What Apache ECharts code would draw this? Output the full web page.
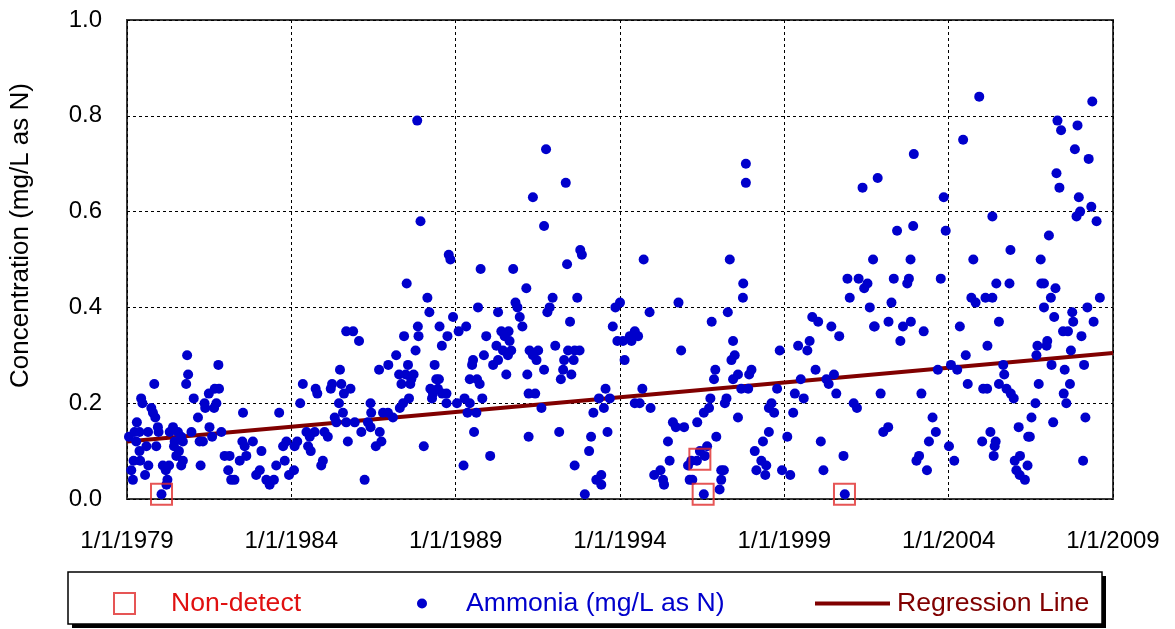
<!DOCTYPE html>
<html>
<head>
<meta charset="utf-8">
<script src="https://cdn.jsdelivr.net/npm/echarts@6/dist/echarts.min.js"></script>
<style>
  html, body { margin: 0; padding: 0; background: #fff; }
  #chart { width: 1175px; height: 629px; }
</style>
</head>
<body>
<div id="chart"></div>
<script>
// x = decimal year, y = mg/L as N
const ammonia1979 = [
  [1980.83,0.30],[1981.78,0.28],[1980.86,0.26],[1979.83,0.24],[1980.80,0.24],[1979.43,0.21],[1979.47,0.20],
  [1979.74,0.19],[1979.79,0.18],[1979.86,0.17],[1981.03,0.21],[1981.49,0.22],[1981.67,0.23],[1981.80,0.23],
  [1981.36,0.20],[1981.38,0.19],[1981.65,0.19],[1981.72,0.20],[1981.16,0.17],[1982.53,0.18],[1979.30,0.16],
  [1979.06,0.13],[1979.23,0.14],[1979.38,0.14],[1979.64,0.14],[1979.94,0.15],[1979.96,0.14],[1979.28,0.12],
  [1979.59,0.11],[1979.89,0.11],[1979.38,0.10],[1980.40,0.15],[1980.30,0.14],[1980.55,0.14],[1980.65,0.13],
  [1980.45,0.12],[1980.70,0.12],[1980.96,0.14],[1981.21,0.12],[1981.31,0.12],[1981.51,0.15],[1981.59,0.13],
  [1981.87,0.14],[1980.43,0.11],[1980.58,0.10],[1980.50,0.09],[1980.70,0.08],[1979.20,0.08],[1979.40,0.08],
  [1979.65,0.07],[1979.13,0.06],[1979.18,0.04],[1979.55,0.05],[1980.09,0.07],[1980.28,0.07],[1980.18,0.06],
  [1980.23,0.04],[1980.20,0.03],[1980.05,0.01],[1980.65,0.07],[1981.24,0.07],[1981.97,0.09],[1982.12,0.09],
  [1982.08,0.06],[1982.17,0.04],[1982.27,0.04],[1982.51,0.12],[1982.58,0.11],[1982.43,0.08],[1982.63,0.09]
];
const ammonia1983 = [
  [1985.67,0.35],[1985.88,0.35],[1986.06,0.33],[1985.48,0.27],[1984.35,0.24],[1984.74,0.23],[1984.79,0.22],
  [1985.24,0.24],[1985.20,0.23],[1985.52,0.24],[1985.60,0.22],[1985.80,0.23],[1984.27,0.20],[1985.45,0.20],
  [1986.41,0.20],[1983.63,0.18],[1985.32,0.17],[1985.57,0.18],[1985.37,0.16],[1985.67,0.16],[1985.93,0.16],
  [1986.13,0.14],[1985.72,0.12],[1986.33,0.16],[1986.41,0.15],[1986.43,0.18],[1986.57,0.11],[1984.46,0.14],
  [1984.71,0.14],[1984.56,0.13],[1985.01,0.14],[1985.11,0.13],[1984.18,0.12],[1983.85,0.12],[1983.75,0.11],
  [1984.10,0.11],[1984.51,0.11],[1984.59,0.10],[1983.09,0.10],[1983.80,0.08],[1983.54,0.07],[1983.04,0.06],
  [1982.93,0.05],[1984.96,0.08],[1984.91,0.07],[1984.08,0.06],[1983.93,0.05],[1983.24,0.04],[1983.34,0.03],
  [1983.47,0.04],[1986.23,0.04],[1982.83,0.12]
];
const ammonia1987 = [
  [1987.83,0.79],[1987.93,0.58],[1988.79,0.51],[1988.84,0.50],[1989.76,0.48],[1987.51,0.45],[1988.14,0.42],
  [1988.20,0.39],[1989.68,0.40],[1990.29,0.39],[1988.92,0.38],[1987.85,0.36],[1987.87,0.34],[1988.51,0.36],
  [1988.75,0.34],[1989.09,0.35],[1989.32,0.36],[1987.43,0.34],[1989.93,0.34],[1990.24,0.32],[1987.78,0.31],
  [1988.58,0.32],[1987.19,0.30],[1986.95,0.28],[1986.67,0.27],[1987.55,0.28],[1988.36,0.28],[1989.53,0.29],
  [1989.50,0.28],[1989.86,0.30],[1990.14,0.28],[1990.29,0.29],[1987.28,0.26],[1987.35,0.24],[1987.48,0.26],
  [1987.65,0.25],[1987.72,0.26],[1987.62,0.24],[1988.41,0.25],[1988.49,0.25],[1988.23,0.23],[1988.31,0.22],
  [1988.46,0.23],[1988.59,0.22],[1988.72,0.22],[1988.28,0.21],[1988.72,0.20],[1987.58,0.21],[1987.40,0.20],
  [1987.30,0.19],[1989.43,0.25],[1989.65,0.25],[1989.73,0.24],[1989.27,0.21],[1989.43,0.20],[1989.04,0.20],
  [1989.81,0.21],[1989.36,0.18],[1989.63,0.18],[1986.79,0.18],[1986.94,0.18],[1987.09,0.17],[1986.69,0.14],
  [1986.74,0.12],[1988.03,0.11],[1989.56,0.14],[1990.05,0.09],[1989.24,0.07]
];
const ammonia1990 = [
  [1991.75,0.73],[1992.35,0.66],[1991.35,0.63],[1991.69,0.57],[1992.79,0.52],[1992.84,0.51],[1992.39,0.49],
  [1990.75,0.48],[1991.15,0.44],[1991.95,0.42],[1992.70,0.42],[1991.86,0.40],[1991.79,0.39],[1990.82,0.41],
  [1990.88,0.40],[1993.86,0.40],[1994.00,0.41],[1990.95,0.38],[1991.03,0.36],[1992.48,0.37],[1993.78,0.36],
  [1990.39,0.35],[1990.61,0.35],[1990.49,0.34],[1990.64,0.33],[1993.92,0.33],[1994.09,0.33],[1990.44,0.31],
  [1990.69,0.31],[1990.59,0.30],[1991.25,0.31],[1991.51,0.31],[1991.35,0.30],[1991.46,0.29],[1992.03,0.32],
  [1992.42,0.31],[1992.62,0.31],[1992.77,0.31],[1992.30,0.29],[1992.59,0.29],[1991.69,0.27],[1990.54,0.26],
  [1991.18,0.26],[1992.27,0.27],[1992.20,0.25],[1992.52,0.26],[1994.14,0.29],[1991.22,0.22],[1991.42,0.22],
  [1991.61,0.19],[1993.56,0.23],[1993.36,0.21],[1993.69,0.21],[1993.51,0.19],[1993.19,0.18],[1991.22,0.13],
  [1992.15,0.14],[1993.62,0.14],[1993.12,0.13],[1993.06,0.10],[1992.62,0.07],[1993.43,0.05],[1993.28,0.04],
  [1993.43,0.03],[1992.93,0.01]
];
const ammonia1994 = [
  [1997.83,0.70],[1997.83,0.66],[1994.72,0.50],[1997.34,0.50],[1997.75,0.45],[1997.74,0.42],[1995.78,0.41],
  [1994.90,0.39],[1997.28,0.39],[1996.79,0.37],[1994.45,0.35],[1994.30,0.34],[1994.55,0.34],[1994.35,0.33],
  [1997.44,0.33],[1995.86,0.31],[1997.49,0.30],[1997.39,0.29],[1996.90,0.27],[1996.86,0.25],[1997.59,0.26],
  [1997.93,0.26],[1997.44,0.25],[1994.68,0.23],[1997.69,0.23],[1997.90,0.23],[1994.45,0.20],[1994.60,0.20],
  [1994.93,0.19],[1996.75,0.21],[1996.71,0.19],[1997.19,0.20],[1997.24,0.21],[1997.59,0.17],[1995.61,0.16],
  [1995.70,0.15],[1995.95,0.15],[1996.35,0.16],[1996.55,0.18],[1996.93,0.13],[1995.46,0.12],[1995.51,0.08],
  [1996.43,0.10],[1996.65,0.11],[1996.58,0.09],[1996.34,0.08],[1996.17,0.08],[1996.07,0.07],[1995.23,0.06],
  [1995.04,0.05],[1995.31,0.04],[1995.34,0.03],[1996.12,0.04],[1996.20,0.04],[1997.16,0.06],[1997.08,0.06],
  [1997.08,0.04],[1997.03,0.02],[1996.55,0.01]
];
const ammonia1998 = [
  [2001.38,0.65],[2000.92,0.46],[2001.26,0.46],[2001.53,0.45],[2001.43,0.44],[2000.99,0.42],[2001.60,0.40],
  [1999.85,0.38],[2000.03,0.37],[2001.73,0.36],[2000.43,0.36],[2000.67,0.34],[1999.77,0.33],[1999.42,0.32],
  [1999.70,0.31],[1998.86,0.31],[1999.95,0.27],[1998.00,0.27],[1999.50,0.25],[2000.28,0.25],[2000.51,0.26],
  [2000.35,0.24],[1998.78,0.23],[2000.58,0.22],[1999.32,0.22],[1999.59,0.21],[1998.61,0.20],[1998.53,0.19],
  [1998.69,0.18],[1999.27,0.18],[2001.11,0.20],[2001.21,0.19],[1998.53,0.14],[1998.35,0.12],[1998.10,0.10],
  [1999.09,0.13],[2000.11,0.12],[2000.80,0.09],[1998.30,0.08],[1998.45,0.07],[1998.15,0.06],[1998.42,0.05],
  [1998.93,0.06],[1999.18,0.05],[2000.19,0.06],[2000.84,0.01]
];
const ammonia2002 = [
  [2004.93,0.84],[2004.44,0.75],[2002.94,0.72],[2001.84,0.67],[2003.85,0.63],[2005.33,0.59],[2002.43,0.56],
  [2002.92,0.57],[2003.91,0.56],[2001.70,0.50],[2002.84,0.50],[2004.75,0.50],[2002.33,0.46],[2002.79,0.46],
  [2002.74,0.45],[2003.76,0.46],[2005.45,0.45],[2002.26,0.41],[2004.69,0.42],[2004.82,0.41],[2005.12,0.42],
  [2005.33,0.42],[2001.75,0.36],[2002.17,0.37],[2002.61,0.36],[2002.85,0.37],[2003.24,0.35],[2002.53,0.33],
  [2004.34,0.36],[2005.53,0.37],[2005.18,0.32],[2004.52,0.30],[2004.07,0.28],[2004.26,0.27],[2003.67,0.27],
  [2004.58,0.24],[2005.05,0.23],[2005.17,0.23],[2005.53,0.24],[2001.93,0.22],[2003.17,0.22],[2003.51,0.17],
  [2002.16,0.15],[2002.01,0.14],[2003.61,0.14],[2003.40,0.12],[2005.27,0.14],[2005.02,0.12],[2005.43,0.12],
  [2005.40,0.11],[2005.37,0.09],[2004.01,0.11],[2004.17,0.08],[2003.10,0.09],[2003.02,0.08],[2003.34,0.06]
];
const ammonia2006 = [
  [2008.37,0.83],[2007.31,0.79],[2007.42,0.77],[2007.92,0.78],[2007.84,0.73],[2008.26,0.71],[2007.28,0.68],
  [2007.37,0.65],[2007.96,0.63],[2008.34,0.61],[2008.00,0.60],[2007.89,0.59],[2008.50,0.58],[2007.05,0.55],
  [2005.88,0.52],[2006.80,0.50],[2005.85,0.45],[2006.82,0.45],[2006.90,0.45],[2007.25,0.44],[2007.11,0.42],
  [2008.60,0.42],[2006.90,0.40],[2007.21,0.38],[2007.76,0.39],[2007.79,0.37],[2008.22,0.40],[2008.41,0.37],
  [2007.48,0.35],[2007.63,0.35],[2008.04,0.34],[2007.00,0.33],[2006.98,0.32],[2006.70,0.32],[2007.72,0.31],
  [2006.67,0.30],[2005.66,0.28],[2005.69,0.26],[2007.13,0.28],[2007.53,0.27],[2008.12,0.28],[2005.76,0.23],
  [2005.89,0.22],[2005.98,0.21],[2006.74,0.24],[2007.69,0.24],[2007.50,0.22],[2007.58,0.20],[2006.64,0.20],
  [2006.52,0.17],[2007.18,0.16],[2008.16,0.17],[2006.13,0.15],[2006.42,0.13],[2006.47,0.13],[2008.09,0.08],
  [2006.01,0.08],[2006.17,0.09],[2006.06,0.06],[2006.16,0.05],[2006.32,0.04],[2006.40,0.07]
];
const nonDetect = [[1980.05,0.01],[1996.43,0.083],[1996.53,0.01],[2000.83,0.01]];
const regressionLine = [[1979,0.12],[2009,0.305]];
const xTicks = { min: 1979, max: 2009, step: 5 };
const yTicks = { min: 0, max: 1, step: 0.2 };

const ammonia = [].concat(ammonia1979, ammonia1983, ammonia1987, ammonia1990,
  ammonia1994, ammonia1998, ammonia2002, ammonia2006);

const FONT = 'Liberation Sans, Arial, sans-serif';
const RED = '#e02a2a';
const BLUE = '#0000cc';
const MAROON = '#800000';
const chart = echarts.init(document.getElementById('chart'), null, { renderer: 'canvas' });

chart.setOption({
  animation: false,
  backgroundColor: '#fff',
  textStyle: { fontFamily: FONT },
  grid: {
    left: 127, right: 62, top: 20, bottom: 130,
    show: true, borderColor: '#3a3a3a', borderWidth: 2,
    outerBoundsMode: 'none'
  },
  xAxis: {
    type: 'value', min: xTicks.min, max: xTicks.max, interval: xTicks.step,
    axisLine: { show: false }, axisTick: { show: false },
    axisLabel: { formatter: v => '1/1/' + v, fontSize: 24, color: '#000', margin: 30, fontFamily: FONT },
    splitLine: { show: true, lineStyle: { color: '#000', type: [3, 3], width: 1 } }
  },
  yAxis: {
    type: 'value', min: yTicks.min, max: yTicks.max, interval: yTicks.step,
    axisLine: { show: false }, axisTick: { show: false },
    axisLabel: { formatter: v => v.toFixed(1), fontSize: 24, color: '#000', margin: 25, fontFamily: FONT },
    splitLine: { show: true, lineStyle: { color: '#000', type: [3, 3], width: 1 } },
    name: 'Concentration (mg/L as N)', nameLocation: 'middle', nameGap: 93,
    nameTextStyle: { fontSize: 26, color: '#000', fontFamily: FONT, padding: [0, 0, 0, 48] }
  },
  graphic: [
    {
      type: 'rect', z: 0, silent: true,
      shape: { x: 72, y: 576, width: 1034, height: 52 },
      style: { fill: '#000' }
    },
    {
      type: 'rect', z: 1, silent: true,
      shape: { x: 68, y: 572, width: 1034, height: 52 },
      style: { fill: '#fff', stroke: '#000', lineWidth: 1.5 }
    }
  ],
  legend: [
    {
      z: 10, left: 113, top: 590, padding: 0, selectedMode: false,
      itemWidth: 21, itemHeight: 21,
      data: [{ name: 'Non-detect', icon: 'rect',
        itemStyle: { color: 'rgba(0,0,0,0)', borderColor: RED, borderWidth: 2 } }],
      textStyle: { fontSize: 26.6, color: '#e01010', fontFamily: FONT, padding: [0, 0, 0, 31] }
    },
    {
      z: 10, left: 417, top: 590, padding: 0, selectedMode: false,
      itemWidth: 10, itemHeight: 10,
      data: [{ name: 'Ammonia (mg/L as N)', icon: 'circle' }],
      textStyle: { fontSize: 26.6, color: BLUE, fontFamily: FONT, padding: [0, 0, 0, 34] }
    },
    {
      z: 10, left: 815, top: 590, padding: 0, selectedMode: false,
      itemWidth: 75, itemHeight: 4,
      data: [{ name: 'Regression Line', icon: 'rect', itemStyle: { color: MAROON } }],
      textStyle: { fontSize: 26.6, color: MAROON, fontFamily: FONT, padding: [0, 0, 0, 2] }
    }
  ],
  series: [
    {
      name: 'Regression Line', type: 'line', data: regressionLine,
      symbol: 'none', z: 2,
      lineStyle: { color: MAROON, width: 4 }, itemStyle: { color: MAROON }
    },
    {
      name: 'Ammonia (mg/L as N)', type: 'scatter', data: ammonia,
      symbolSize: 10, z: 3,
      itemStyle: { color: BLUE, opacity: 1 }
    },
    {
      name: 'Non-detect', type: 'scatter', data: nonDetect,
      symbol: 'rect', symbolSize: 21, z: 4,
      itemStyle: { color: 'rgba(0,0,0,0)', borderColor: RED, borderWidth: 2 }
    }
  ]
});
</script>
</body>
</html>
